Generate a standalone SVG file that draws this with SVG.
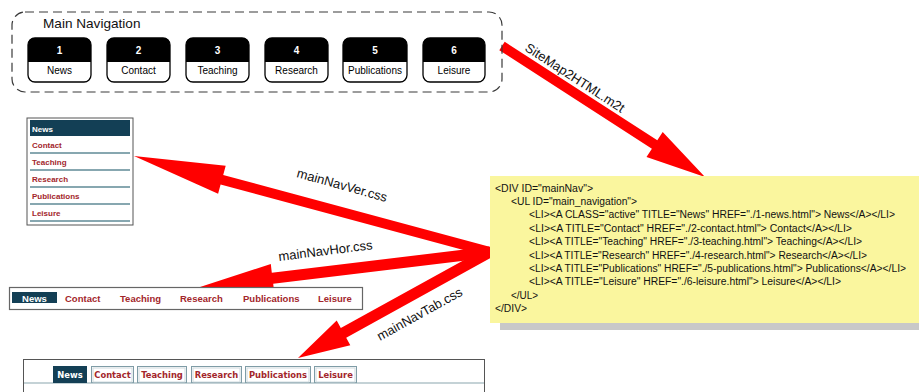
<svg xmlns="http://www.w3.org/2000/svg" width="919" height="392" viewBox="0 0 919 392">
<style>
.sans{font-family:"Liberation Sans",Arial,sans-serif}
.dash{fill:none;stroke:#3a3a3a;stroke-width:1.2;stroke-dasharray:9 5}
.btnTop{fill:#000}
.btnOut{fill:none;stroke:#000;stroke-width:1.3}
.num{font-family:"Liberation Sans",Arial,sans-serif;font-size:10px;font-weight:bold;fill:#fff;text-anchor:middle}
.lbl{font-family:"Liberation Sans",Arial,sans-serif;font-size:10px;fill:#000;text-anchor:middle}
.arrow{fill:#ff0000}
.alabel{font-family:"Liberation Sans",Arial,sans-serif;font-size:13px;fill:#111}
.code{font-family:"Liberation Sans",Arial,sans-serif;font-size:10px;fill:#111}
.vitem{font-family:"Liberation Sans",Arial,sans-serif;font-size:8px;font-weight:bold;fill:#a3262b}
.vline{stroke:#5f8a96;stroke-width:1.3}
.hitem{font-family:"Liberation Sans",Arial,sans-serif;font-size:9.5px;font-weight:bold;fill:#a3262b}
.titem{font-family:"DejaVu Sans",Verdana,sans-serif;font-size:8.4px;font-weight:bold;fill:#a3262b;text-anchor:middle}
.tab{fill:#fff;stroke:#7f9ca6;stroke-width:1}
.tabIn{fill:none;stroke:#cfdade;stroke-width:1}
.dark{fill:#133f55}
.white{fill:#fff}
</style>

<g id="connectors">
  <polygon class="arrow" points="499.3,50.2 651.9,148.7 646.5,157.1 705,177 662.7,131.9 657.3,140.3 504.7,41.8"/>
  <polygon class="arrow" points="491.3,247.2 223.2,174.9 225.7,165.7 134,156 218.1,193.7 220.6,184.5 488.7,256.8"/>
  <polygon class="arrow" points="489.3,246.5 271.8,272.8 270.8,263.9 200,287 274.2,292.6 273.2,283.7 490.7,257.5"/>
  <polygon class="arrow" points="487.3,247.2 340.8,328.1 336.7,320.6 298,358 350.3,345.2 346.2,337.7 492.7,256.8"/>
  <text class="alabel" x="524" y="50" transform="rotate(33 524 50)" font-size="12.5">SiteMap2HTML.m2t</text>
  <text class="alabel" x="296" y="177" transform="rotate(15.5 296 177)">mainNavVer.css</text>
  <text class="alabel" x="279" y="261" transform="rotate(-7.2 279 261)">mainNavHor.css</text>
  <text class="alabel" x="380" y="341" transform="rotate(-29 380 341)">mainNavTab.css</text>
</g>

<g id="main-navigation">
  <rect class="dash" x="12" y="12" width="490" height="80" rx="13"/>
  <text class="sans" x="43" y="28" font-size="13.6" fill="#111">Main Navigation</text>
  <g id="btn-news">
    <path class="btnTop" d="M28,62 V45 Q28,38 35,38 H84 Q91,38 91,45 V62 Z"/>
    <rect class="btnOut" x="28" y="38" width="63" height="44" rx="7"/>
    <text class="num" x="59.5" y="54">1</text>
    <text class="lbl" x="59.5" y="74">News</text>
  </g>
  <g id="btn-contact">
    <path class="btnTop" d="M107,62 V45 Q107,38 114,38 H163 Q170,38 170,45 V62 Z"/>
    <rect class="btnOut" x="107" y="38" width="63" height="44" rx="7"/>
    <text class="num" x="138.5" y="54">2</text>
    <text class="lbl" x="138.5" y="74">Contact</text>
  </g>
  <g id="btn-teaching">
    <path class="btnTop" d="M186,62 V45 Q186,38 193,38 H242 Q249,38 249,45 V62 Z"/>
    <rect class="btnOut" x="186" y="38" width="63" height="44" rx="7"/>
    <text class="num" x="217.5" y="54">3</text>
    <text class="lbl" x="217.5" y="74">Teaching</text>
  </g>
  <g id="btn-research">
    <path class="btnTop" d="M265,62 V45 Q265,38 272,38 H321 Q328,38 328,45 V62 Z"/>
    <rect class="btnOut" x="265" y="38" width="63" height="44" rx="7"/>
    <text class="num" x="296.5" y="54">4</text>
    <text class="lbl" x="296.5" y="74">Research</text>
  </g>
  <g id="btn-publications">
    <path class="btnTop" d="M343,62 V45 Q343,38 350,38 H400 Q407,38 407,45 V62 Z"/>
    <rect class="btnOut" x="343" y="38" width="64" height="44" rx="7"/>
    <text class="num" x="375" y="54">5</text>
    <text class="lbl" x="375" y="74">Publications</text>
  </g>
  <g id="btn-leisure">
    <path class="btnTop" d="M423,62 V45 Q423,38 430,38 H478 Q485,38 485,45 V62 Z"/>
    <rect class="btnOut" x="423" y="38" width="62" height="44" rx="7"/>
    <text class="num" x="454" y="54">6</text>
    <text class="lbl" x="454" y="74">Leisure</text>
  </g>
</g>

<g id="html-code">
  <rect x="500" y="321" width="419" height="9" fill="#c8c8c8"/>
  <rect x="490" y="176" width="429" height="147" fill="#faf69e"/>
  <text class="code" x="495" y="191.5" textLength="98" lengthAdjust="spacingAndGlyphs">&lt;DIV ID="mainNav"&gt;</text>
  <text class="code" x="511" y="205" textLength="126" lengthAdjust="spacingAndGlyphs">&lt;UL ID="main_navigation"&gt;</text>
  <text class="code" x="529" y="218.4" textLength="366" lengthAdjust="spacingAndGlyphs">&lt;LI&gt;&lt;A CLASS="active" TITLE="News" HREF="./1-news.html"&gt; News&lt;/A&gt;&lt;/LI&gt;</text>
  <text class="code" x="529" y="231.8" textLength="323" lengthAdjust="spacingAndGlyphs">&lt;LI&gt;&lt;A TITLE="Contact" HREF="./2-contact.html"&gt; Contact&lt;/A&gt;&lt;/LI&gt;</text>
  <text class="code" x="529" y="245.2" textLength="333" lengthAdjust="spacingAndGlyphs">&lt;LI&gt;&lt;A TITLE="Teaching" HREF="./3-teaching.html"&gt; Teaching&lt;/A&gt;&lt;/LI&gt;</text>
  <text class="code" x="529" y="258.6" textLength="338" lengthAdjust="spacingAndGlyphs">&lt;LI&gt;&lt;A TITLE="Research" HREF="./4-research.html"&gt; Research&lt;/A&gt;&lt;/LI&gt;</text>
  <text class="code" x="529" y="272" textLength="377" lengthAdjust="spacingAndGlyphs">&lt;LI&gt;&lt;A TITLE="Publications" HREF="./5-publications.html"&gt; Publications&lt;/A&gt;&lt;/LI&gt;</text>
  <text class="code" x="529" y="285.4" textLength="312" lengthAdjust="spacingAndGlyphs">&lt;LI&gt;&lt;A TITLE="Leisure" HREF="./6-leisure.html"&gt; Leisure&lt;/A&gt;&lt;/LI&gt;</text>
  <text class="code" x="511" y="298.8" textLength="27" lengthAdjust="spacingAndGlyphs">&lt;/UL&gt;</text>
  <text class="code" x="495" y="312.2" textLength="32" lengthAdjust="spacingAndGlyphs">&lt;/DIV&gt;</text>
</g>

<g id="vertical-menu">
  <rect x="27" y="118" width="106" height="107" fill="#fff" stroke="#555" stroke-width="1"/>
  <rect class="dark" x="30" y="120" width="100" height="16"/>
  <text class="vitem" x="32" y="131.5" fill="#fff" style="fill:#fff">News</text>
  <text class="vitem" x="32" y="148">Contact</text>
  <line class="vline" x1="30" y1="153" x2="130" y2="153"/>
  <text class="vitem" x="32" y="165">Teaching</text>
  <line class="vline" x1="30" y1="170" x2="130" y2="170"/>
  <text class="vitem" x="32" y="182">Research</text>
  <line class="vline" x1="30" y1="187" x2="130" y2="187"/>
  <text class="vitem" x="32" y="199">Publications</text>
  <line class="vline" x1="30" y1="204" x2="130" y2="204"/>
  <text class="vitem" x="32" y="216">Leisure</text>
  <line class="vline" x1="30" y1="221" x2="130" y2="221"/>
</g>

<g id="horizontal-menu">
  <rect x="9.5" y="287.5" width="353" height="22" fill="#fff" stroke="#666" stroke-width="1.2"/>
  <rect class="dark" x="12" y="292" width="45" height="11"/>
  <text class="hitem" x="34.5" y="301.5" text-anchor="middle" style="fill:#fff">News</text>
  <text class="hitem" x="65" y="301.5">Contact</text>
  <text class="hitem" x="120" y="301.5">Teaching</text>
  <text class="hitem" x="180" y="301.5">Research</text>
  <text class="hitem" x="243" y="301.5">Publications</text>
  <text class="hitem" x="318" y="301.5">Leisure</text>
</g>

<g id="tab-menu">
  <rect x="23.5" y="359.5" width="461" height="40" fill="#fff" stroke="#555" stroke-width="1"/>
  <line x1="24" y1="383" x2="484" y2="383" stroke="#8aa5ae" stroke-width="1.2"/>
  <rect class="dark" x="53" y="366" width="34" height="17"/>
  <text class="titem" x="70" y="378" style="fill:#fff">News</text>
  <rect class="tab" x="91.5" y="366.5" width="42" height="16"/>
  <rect class="tabIn" x="93" y="368" width="39" height="14"/>
  <text class="titem" x="112.5" y="378">Contact</text>
  <rect class="tab" x="137.5" y="366.5" width="49" height="16"/>
  <rect class="tabIn" x="139" y="368" width="46" height="14"/>
  <text class="titem" x="162" y="378">Teaching</text>
  <rect class="tab" x="191.5" y="366.5" width="50" height="16"/>
  <rect class="tabIn" x="193" y="368" width="47" height="14"/>
  <text class="titem" x="216.5" y="378">Research</text>
  <rect class="tab" x="245.5" y="366.5" width="65" height="16"/>
  <rect class="tabIn" x="247" y="368" width="62" height="14"/>
  <text class="titem" x="278" y="378">Publications</text>
  <rect class="tab" x="314.5" y="366.5" width="42" height="16"/>
  <rect class="tabIn" x="316" y="368" width="39" height="14"/>
  <text class="titem" x="335.5" y="378">Leisure</text>
</g>
</svg>
